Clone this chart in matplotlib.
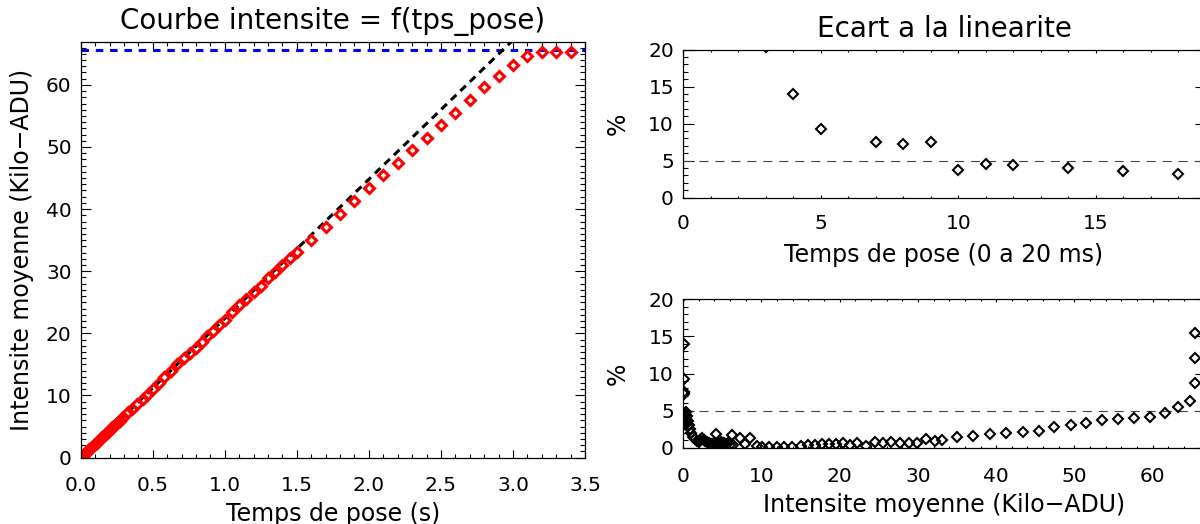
import matplotlib
matplotlib.use("Agg")
import matplotlib.pyplot as plt
from matplotlib.ticker import MultipleLocator, FormatStrFormatter

# ---------------- data ----------------
# exposure time (s)
temps = [0.003, 0.004, 0.005, 0.007, 0.008, 0.009, 0.010, 0.011, 0.012, 0.014, 0.016, 0.018,
         0.020, 0.025, 0.030, 0.035, 0.040, 0.050, 0.060, 0.070, 0.080, 0.090, 0.100,
         0.110, 0.120, 0.130, 0.140, 0.150, 0.160, 0.170, 0.180, 0.188, 0.190, 0.200,
         0.210, 0.220, 0.230, 0.240, 0.250, 0.260, 0.270, 0.284, 0.290, 0.330, 0.356,
         0.390, 0.430,
         0.46, 0.50, 0.54, 0.58, 0.625, 0.67, 0.72, 0.76, 0.80, 0.84, 0.88, 0.92,
         0.96, 1.00, 1.05, 1.10, 1.15, 1.20, 1.25, 1.30, 1.35, 1.40, 1.45, 1.50,
         1.6, 1.7, 1.8, 1.9, 2.0, 2.1, 2.2, 2.3, 2.4, 2.5, 2.6, 2.7, 2.8, 2.9,
         3.0, 3.1, 3.2, 3.3, 3.4]
# mean intensity (kilo-ADU)
intensite = [0.055, 0.077, 0.101, 0.145, 0.166, 0.186, 0.215, 0.234, 0.256, 0.300, 0.344, 0.388,
             0.43, 0.53, 0.64, 0.75, 0.86, 1.08, 1.31, 1.53, 1.76, 1.98, 2.20,
             2.42, 2.64, 2.86, 3.08, 3.30, 3.53, 3.75, 3.97, 4.16, 4.19, 4.42,
             4.64, 4.86, 5.08, 5.30, 5.52, 5.74, 5.96, 6.30, 6.42, 7.30, 7.90,
             8.60, 9.50,
             10.1, 11.0, 12.0, 12.9, 13.9, 15.1, 16.0, 16.8, 17.7, 18.6, 19.5, 20.4,
             21.3, 22.2, 23.4, 24.5, 25.5, 26.6, 27.7, 28.9, 29.9, 31.0, 32.2, 33.1,
             35.0, 37.1, 39.2, 41.3, 43.4, 45.5, 47.4, 49.5, 51.5, 53.5, 55.5, 57.6,
             59.6, 61.5, 63.2, 64.7, 65.35, 65.35, 65.35]
# deviation from linearity (%)
ecart = [20.4, 14.0, 9.3, 7.45, 7.3, 7.45, 3.7, 4.6, 4.4, 4.0, 3.6, 3.2,
         4.8, 4.3, 3.6, 3.0, 2.5, 2.0, 1.5, 1.2, 0.9, 0.8, 1.0,
         1.25, 1.1, 0.9, 0.8, 0.6, 0.5, 0.4, 0.6, 1.85, 0.5, 0.7,
         0.5, 0.8, 0.6, 0.7, 0.5, 0.6, 0.3, 1.7, 0.4, 1.27, 0.5,
         1.27, 0.27,
         0.13, 0.13, 0.13, 0.13, 0.13, 0.27, 0.36, 0.36, 0.45, 0.49, 0.49, 0.58,
         0.36, 0.58, 0.27, 0.72, 0.58, 0.80, 0.58, 0.58, 0.67, 1.17, 0.90, 1.03,
         1.39, 1.62, 1.84, 2.02, 2.16, 2.29, 2.83, 3.06, 3.33, 3.70, 3.85, 4.00,
         4.18, 4.65, 5.44, 6.25, 8.76, 12.1, 15.5]

pente_fit = 22.4        # kADU / s, linear fit
saturation = 65.535     # kADU
seuil = 5.0             # %

# ---------------- layout helpers ----------------
W, H = 1200, 524
plt.rcParams['font.family'] = ['DejaVu Sans']
plt.rcParams['lines.scale_dashes'] = False

fig = plt.figure(figsize=(W / 100, H / 100), dpi=100)


def rect(x0, x1, y0, y1):
    return [x0 / W, 1 - y1 / H, (x1 - x0) / W, (y1 - y0) / H]


def ftext(x, y, s, **kw):
    fig.text(x / W, 1 - y / H, s, **kw)


TICK_FS = 14.5
LAB_FS = 17.0
TITLE_FS = 20.0


def style(ax, xmaj, xmin, ymaj, ymin, xlen, ylen, xpad):
    ax.xaxis.set_major_locator(MultipleLocator(xmaj))
    ax.xaxis.set_minor_locator(MultipleLocator(xmin))
    ax.yaxis.set_major_locator(MultipleLocator(ymaj))
    ax.yaxis.set_minor_locator(MultipleLocator(ymin))
    ax.tick_params(axis='x', which='major', direction='in', top=True, bottom=True,
                   length=xlen, width=0.8, pad=xpad, labelsize=TICK_FS)
    ax.tick_params(axis='x', which='minor', direction='in', top=True, bottom=True,
                   length=xlen / 2, width=0.8)
    ax.tick_params(axis='y', which='major', direction='in', left=True, right=True,
                   length=ylen, width=0.8, pad=6.5, labelsize=TICK_FS)
    ax.tick_params(axis='y', which='minor', direction='in', left=True, right=True,
                   length=ylen / 2, width=0.8)
    for sp in ax.spines.values():
        sp.set_linewidth(0.9)


# ---------------- left panel ----------------
axL = fig.add_axes(rect(80.7, 585.0, 41.7, 457.6))
axL.axhline(saturation, color='#0000ff', lw=2.2, dashes=(5.4, 4.9))
axL.axline((0, 0), slope=pente_fit, color='black', lw=2.2, dashes=(5.5, 4.0))
axL.plot(temps, intensite, linestyle='none', marker='D', ms=4.6,
         mfc='none', mec='#ff0000', mew=2.2)
axL.set_xlim(0, 3.5)
axL.set_ylim(0, 66.95)
style(axL, 0.5, 0.1, 10, 1, 6.0, 7.2, 12.9)
axL.xaxis.set_major_formatter(FormatStrFormatter('%.1f'))
axL.yaxis.set_major_formatter(FormatStrFormatter('%d'))

ftext(333, 29.3, 'Courbe intensite = f(tps_pose)', ha='center', va='baseline',
      fontsize=TITLE_FS)
ftext(333, 521, 'Temps de pose (s)', ha='center', va='baseline', fontsize=LAB_FS)
ftext(10.5, 249.6, 'Intensite moyenne (Kilo\u2212ADU)', ha='left', va='center',
      rotation=90, fontsize=LAB_FS)

# ---------------- top-right panel ----------------
temps_ms = [t * 1000 for t in temps]
axT = fig.add_axes(rect(683.0, 1206.0, 49.5, 197.7))
axT.axhline(seuil, color='#444444', lw=0.8, dashes=(6.5, 5.0))
axT.plot(temps_ms, ecart, linestyle='none', marker='D', ms=4.6,
         mfc='none', mec='black', mew=1.5)
axT.set_xlim(0, 19)
axT.set_ylim(0, 20)
style(axT, 5, 1, 5, 1, 2.2, 7.9, 12.0)
ftext(944, 36.7, 'Ecart a la linearite', ha='center', va='baseline', fontsize=TITLE_FS)
ftext(944, 262, 'Temps de pose (0 a 20 ms)', ha='center', va='baseline',
      fontsize=LAB_FS)
ftext(618, 123.6, '%', ha='center', va='center', rotation=90, fontsize=LAB_FS)

# ---------------- bottom-right panel ----------------
axB = fig.add_axes(rect(683.0, 1206.0, 299.3, 447.7))
axB.axhline(seuil, color='#444444', lw=0.8, dashes=(6.5, 5.0))
axB.plot(intensite, ecart, linestyle='none', marker='D', ms=4.6,
         mfc='none', mec='black', mew=1.5)
axB.set_xlim(0, 66.8)
axB.set_ylim(0, 20)
style(axB, 10, 2, 5, 1, 2.2, 7.9, 14.2)
ftext(944, 511.7, 'Intensite moyenne (Kilo\u2212ADU)', ha='center', va='baseline',
      fontsize=LAB_FS)
ftext(618, 373.5, '%', ha='center', va='center', rotation=90, fontsize=LAB_FS)

fig.savefig('out.png', dpi=100)
